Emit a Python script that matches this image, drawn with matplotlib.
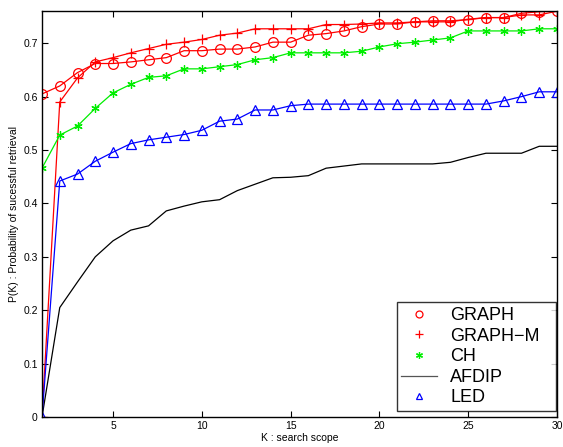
import matplotlib
matplotlib.use("Agg")
import matplotlib.pyplot as plt
from matplotlib.lines import Line2D

plt.rcParams['font.family'] = ['Liberation Sans', 'DejaVu Sans']

K = list(range(1, 31))

graph = [0.605, 0.620, 0.645, 0.662, 0.662, 0.665, 0.669, 0.673, 0.686, 0.686,
         0.689, 0.689, 0.693, 0.702, 0.702, 0.715, 0.718, 0.723, 0.731, 0.736,
         0.736, 0.740, 0.742, 0.742, 0.744, 0.748, 0.748, 0.756, 0.759, 0.760]
graph_m = [0.0, 0.590, 0.635, 0.665, 0.673, 0.682, 0.690, 0.698, 0.702, 0.707,
           0.715, 0.719, 0.727, 0.727, 0.727, 0.727, 0.735, 0.735, 0.736, 0.738,
           0.738, 0.740, 0.740, 0.740, 0.745, 0.748, 0.748, 0.753, 0.753, 0.760]
ch = [0.466, 0.528, 0.545, 0.578, 0.607, 0.623, 0.636, 0.639, 0.652, 0.652,
      0.656, 0.660, 0.669, 0.673, 0.682, 0.682, 0.682, 0.682, 0.685, 0.693,
      0.699, 0.702, 0.706, 0.710, 0.723, 0.723, 0.723, 0.723, 0.727, 0.727]
afdip = [0.0, 0.205, 0.253, 0.300, 0.330, 0.350, 0.358, 0.386, 0.395, 0.403,
         0.407, 0.424, 0.436, 0.448, 0.449, 0.452, 0.466, 0.470, 0.474, 0.474,
         0.474, 0.474, 0.474, 0.477, 0.486, 0.494, 0.494, 0.494, 0.507, 0.507]
led = [0.0, 0.442, 0.455, 0.479, 0.496, 0.512, 0.519, 0.524, 0.529, 0.537,
       0.554, 0.558, 0.575, 0.575, 0.583, 0.586, 0.586, 0.586, 0.586, 0.586,
       0.586, 0.586, 0.586, 0.586, 0.586, 0.586, 0.592, 0.600, 0.609, 0.609]

names = ['GRAPH', 'GRAPH\u2212M', 'CH', 'AFDIP', 'LED']

fig = plt.figure(figsize=(5.63, 4.47), dpi=100)
ax = fig.add_axes([0.0746, 0.067, 0.9147, 0.908])

lw = 0.9
ax.plot(K, graph, color='#ff0000', lw=lw, marker='o', ms=7, mfc='none', mew=0.9)
ax.plot(K, graph_m, color='#ff0000', lw=lw, marker='+', ms=7, mew=0.9)
ax.plot(K, ch, color='#00ee00', lw=lw, marker=(6, 2, 0), ms=6, mew=0.9)
ax.plot(K, afdip, color='black', lw=lw)
ax.plot(K, led, color='#0000ff', lw=lw, marker='^', ms=7, mfc='none', mew=0.9)

ax.set_xlim(1, 30)
ax.set_ylim(0, 0.76)
ax.set_xticks([5, 10, 15, 20, 25, 30])
ax.set_yticks([0, 0.1, 0.2, 0.3, 0.4, 0.5, 0.6, 0.7])
ax.set_yticklabels(['0', '0.1', '0.2', '0.3', '0.4', '0.5', '0.6', '0.7'])
ax.tick_params(direction='in', top=True, right=True, labelsize=7.5, length=4, width=0.8, pad=3)
for s in ax.spines.values():
    s.set_linewidth(1.0)

ax.set_xlabel('K : search scope', fontsize=7.5, labelpad=1)
ax.set_ylabel('P(K) : Probability of sucessful retrieval', fontsize=7.5, labelpad=3)

handles = [
    Line2D([], [], ls='none', color='#ff0000', marker='o', ms=5, mfc='none', mew=0.9),
    Line2D([], [], ls='none', color='#ff0000', marker='+', ms=6, mew=0.9),
    Line2D([], [], ls='none', color='#00ee00', marker=(6, 2, 0), ms=5, mew=0.9),
    Line2D([], [], color='#555555', lw=lw),
    Line2D([], [], ls='none', color='#0000ff', marker='^', ms=5, mfc='none', mew=0.9),
]
leg = ax.legend(handles, names, loc='lower left', mode='expand',
                bbox_to_anchor=(0.689, 0.015, 0.309, 0.2),
                fontsize=13, frameon=True, fancybox=False, edgecolor='black',
                borderaxespad=0, handlelength=2.0, labelspacing=0.2, borderpad=0.25,
                handletextpad=0.7)
leg.get_frame().set_linewidth(1.0)

fig.savefig('out.png', dpi=100)
